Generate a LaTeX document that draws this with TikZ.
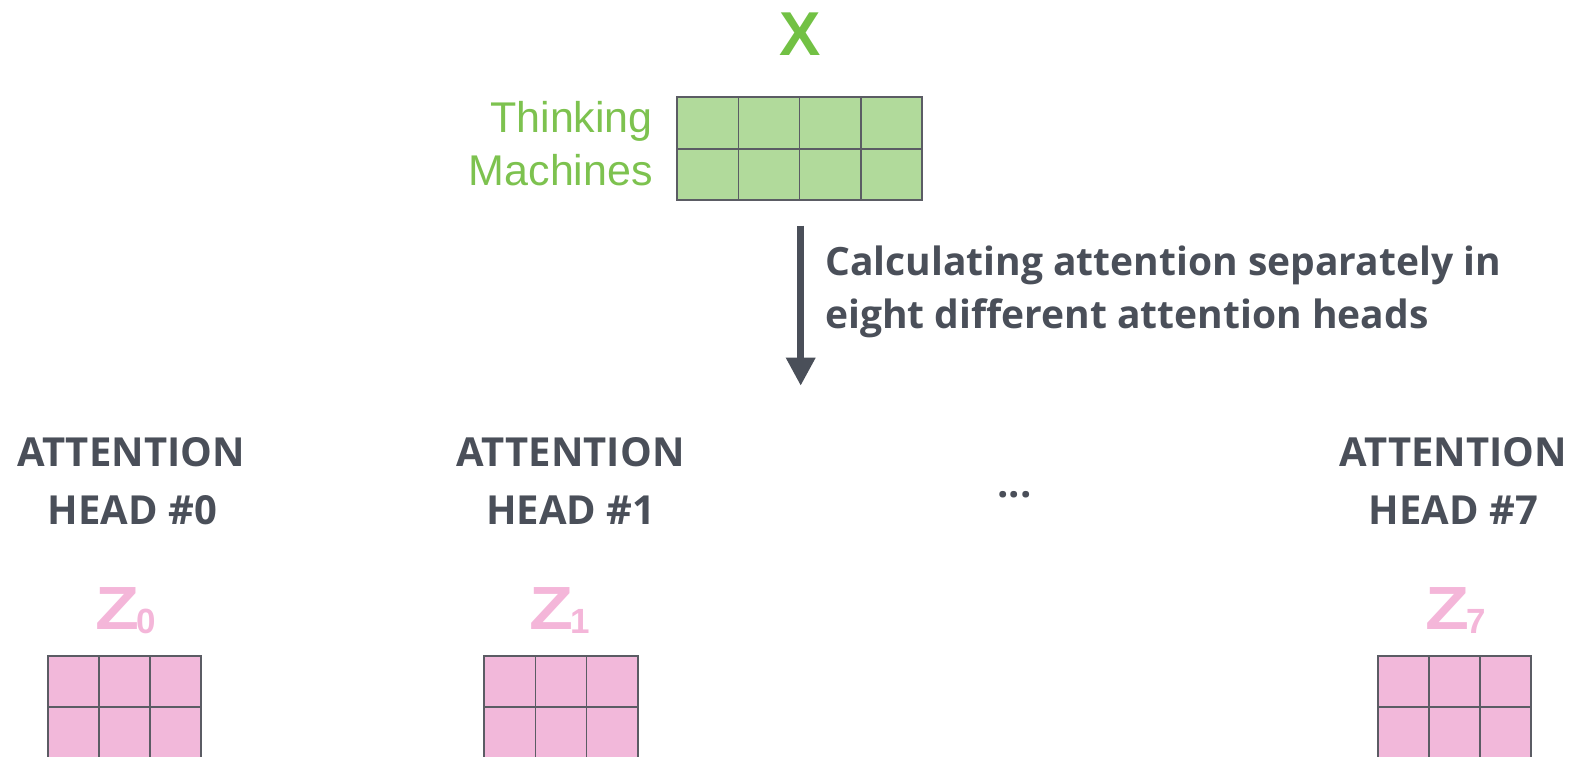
\documentclass[tikz,border=0pt]{standalone}
\usepackage{fontspec}
\setmainfont{Open Sans}
\newfontfamily\hv{Liberation Sans}
\usetikzlibrary{arrows.meta}
\definecolor{darktxt}{HTML}{4A4F59}
\definecolor{gridc}{HTML}{5B5C64}
\definecolor{gfill}{HTML}{B1DA9B}
\definecolor{gtxt}{HTML}{72C144}
\definecolor{gtxtl}{HTML}{7DC24F}
\definecolor{pfill}{HTML}{F2B8DA}
\definecolor{ptxt}{HTML}{F4B6D9}
\tikzset{
  gbox/.style={draw=gridc, line width=1.8pt, fill=gfill, inner sep=0pt, outer sep=0pt, anchor=north west},
  pbox/.style={draw=gridc, line width=1.8pt, fill=pfill, inner sep=0pt, outer sep=0pt, anchor=north west, minimum width=153.3pt, minimum height=104pt},
  gline/.style={draw=gridc, line width=1.8pt},
  headtxt/.style={text=darktxt, font=\bfseries\fontsize{40}{48}\selectfont, anchor=base, inner sep=0pt},
  desctxt/.style={text=darktxt, font=\bfseries\fontsize{39}{46}\selectfont, anchor=base west, inner sep=0pt},
  wordtxt/.style={text=gtxtl, font=\hv\fontsize{43}{50}\selectfont, anchor=base east, inner sep=0pt},
  zlab/.style={text=ptxt, anchor=base, inner sep=0pt},
}
\newcommand{\zsub}[1]{\scalebox{1.18}[1]{\hv\bfseries\fontsize{61}{61}\selectfont Z}\kern-3pt\raisebox{-4pt}{\hv\bfseries\fontsize{35}{35}\selectfont #1}}
\begin{document}
\begin{tikzpicture}[x=1pt,y=-1pt]
\useasboundingbox (0,0) rectangle (1596,756);
\clip (0,0) rectangle (1596,756);

% X input
\node[text=gtxt, font=\hv\bfseries\fontsize{62}{62}\selectfont, anchor=base, inner sep=0pt] (xlab) at (800,55) {X};
\node[gbox, minimum width=244.4pt, minimum height=102.7pt] (xm) at (677.3,97.3) {};
\foreach \i in {1,2,3} \draw[gline] (xm.north west) ++(\i*61.1,0) -- ++(0,102.7);
\draw[gline] (xm.west) -- (xm.east);
\node[wordtxt] (w1) at (653,132) {Thinking};
\node[wordtxt] (w2) at (653,185) {Machines};

% arrow
\coordinate (as) at (800.7,225.7);
\coordinate (ae) at (800.7,385.7);
\draw[darktxt, line width=6.5pt, -{Triangle[width=28pt,length=28pt]}] (as) -- (ae);
\node[desctxt] (d1) at (825,275) {Calculating attention separately in};
\node[desctxt] (d2) at (825,328) {eight different attention heads};

% heads
\node[headtxt] (h0a) at (131,466.7) {ATTENTION};
\node[headtxt] (h0b) at (132.5,524) {HEAD \#0};
\node[headtxt] (h1a) at (570.8,466.7) {ATTENTION};
\node[headtxt] (h1b) at (570.8,524) {HEAD \#1};
\node[headtxt] (h7a) at (1453.3,466.7) {ATTENTION};
\node[headtxt] (h7b) at (1453.3,524) {HEAD \#7};
\node[headtxt] (dots) at (1014.3,497) {...};

% Z labels
\node[zlab] (z0) at (125.3,629) {\zsub{0}};
\node[zlab] (z1) at (559.7,629) {\zsub{1}};
\node[zlab] (z7) at (1455.5,629) {\zsub{7}};

% Z matrices
\foreach \nm/\xx in {m0/47.7, m1/484.3, m7/1377.7}{
  \node[pbox] (\nm) at (\xx,655.7) {};
  \foreach \i in {1,2} \draw[gline] (\nm.north west) ++(\i*51.1,0) -- ++(0,104);
  \draw[gline] (\nm.north west) ++(0,51.6) -- ++(153.3,0);
}
\end{tikzpicture}
\end{document}
